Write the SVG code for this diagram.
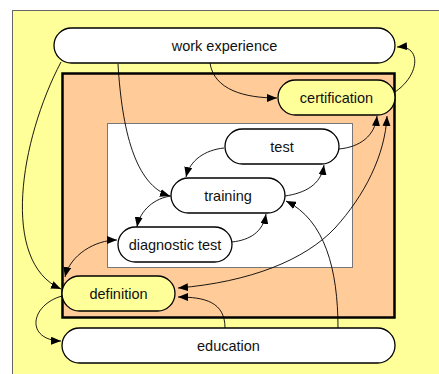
<svg xmlns="http://www.w3.org/2000/svg" width="439" height="374" viewBox="0 0 439 374">
  <style>
    .node { stroke: #000; stroke-width: 1.3; }
    .plain { fill: #ffffff; }
    .hl { fill: #ffff99; }
    .label { font-family: "Liberation Sans", Arial, sans-serif; font-size: 14.5px; fill: #111; text-anchor: middle; }
    .edge { fill: none; stroke: #000; stroke-width: 0.9; }
  </style>
  <defs>
    <marker id="arrow" viewBox="0 0 10 8" refX="10" refY="4" markerWidth="10" markerHeight="8" markerUnits="userSpaceOnUse" orient="auto-start-reverse">
      <path d="M0,0 L10,4 L0,8 Z" fill="#000"/>
    </marker>
  </defs>

  <!-- page background and frame -->
  <rect x="0" y="0" width="439" height="374" fill="#ffffff"/>
  <rect x="12.5" y="10.5" width="440" height="380" fill="#ffff99" stroke="#666" stroke-width="1"/>

  <!-- outer cluster -->
  <rect id="cluster-outer" x="62.5" y="73.5" width="332" height="244" fill="#ffcc99" stroke="#000" stroke-width="2.5"/>
  <!-- inner cluster -->
  <rect id="cluster-inner" x="107.5" y="123.5" width="245" height="144" fill="#ffffff" stroke="#777" stroke-width="1"/>

  <g id="connectors">
    <!-- work experience -> certification -->
    <path class="edge" d="M210,63 C214,90 245,98 277,98" marker-end="url(#arrow)"/>
    <!-- work experience -> training -->
    <path class="edge" d="M118,64 C122,130 135,185 170,196" marker-end="url(#arrow)"/>
    <!-- work experience -> definition -->
    <path class="edge" d="M61,62 C20,140 0,262 61,289" marker-end="url(#arrow)"/>
    <!-- definition -> education -->
    <path class="edge" d="M62,296 C30,305 25,340 61,341" marker-end="url(#arrow)"/>
    <!-- certification -> work experience -->
    <path class="edge" d="M395,92 C420,75 422,45 397,47" marker-end="url(#arrow)"/>
    <!-- test -> certification -->
    <path class="edge" d="M339,149 C360,147 375,136 377,116" marker-end="url(#arrow)"/>
    <!-- definition <-> certification -->
    <path class="edge" d="M178,288 C250,282 305,260 335,228 C365,195 385,155 387,116" marker-start="url(#arrow)" marker-end="url(#arrow)"/>
    <!-- test -> training -->
    <path class="edge" d="M224,148 C205,150 190,160 186,177" marker-end="url(#arrow)"/>
    <!-- training -> test -->
    <path class="edge" d="M285,196 C305,193 321,185 324,165" marker-end="url(#arrow)"/>
    <!-- training -> diagnostic test -->
    <path class="edge" d="M171,196 C155,198 140,210 137,227" marker-end="url(#arrow)"/>
    <!-- diagnostic test -> training -->
    <path class="edge" d="M232,242 C250,240 263,232 266,214" marker-end="url(#arrow)"/>
    <!-- diagnostic test <-> definition -->
    <path class="edge" d="M117,240 C95,240 70,255 65,277" marker-start="url(#arrow)" marker-end="url(#arrow)"/>
    <!-- education -> training -->
    <path class="edge" d="M338,328 C338,270 325,220 286,201" marker-end="url(#arrow)"/>
    <!-- education -> definition -->
    <path class="edge" d="M225,328 C225,302 205,297 178,297" marker-end="url(#arrow)"/>
  </g>

  <g id="work-experience">
    <rect class="node plain" x="54" y="28" width="341" height="35" rx="17.5"/>
    <text class="label" x="224.5" y="50.5">work experience</text>
  </g>
  <g id="certification">
    <rect class="node hl" x="278" y="80" width="117" height="35" rx="17.5"/>
    <text class="label" x="336.5" y="102.5">certification</text>
  </g>
  <g id="test">
    <rect class="node plain" x="225" y="129" width="114" height="35" rx="17.5"/>
    <text class="label" x="282" y="151.5">test</text>
  </g>
  <g id="training">
    <rect class="node plain" x="171" y="178" width="114" height="35" rx="17.5"/>
    <text class="label" x="228" y="200.5">training</text>
  </g>
  <g id="diagnostic-test">
    <rect class="node plain" x="118" y="227" width="114" height="35" rx="17.5"/>
    <text class="label" x="175" y="249.5">diagnostic test</text>
  </g>
  <g id="definition">
    <rect class="node hl" x="62" y="276" width="113" height="35" rx="17.5"/>
    <text class="label" x="118.5" y="298.5">definition</text>
  </g>
  <g id="education">
    <rect class="node plain" x="62" y="328" width="333" height="35" rx="17.5"/>
    <text class="label" x="228.5" y="350.5">education</text>
  </g>
</svg>
